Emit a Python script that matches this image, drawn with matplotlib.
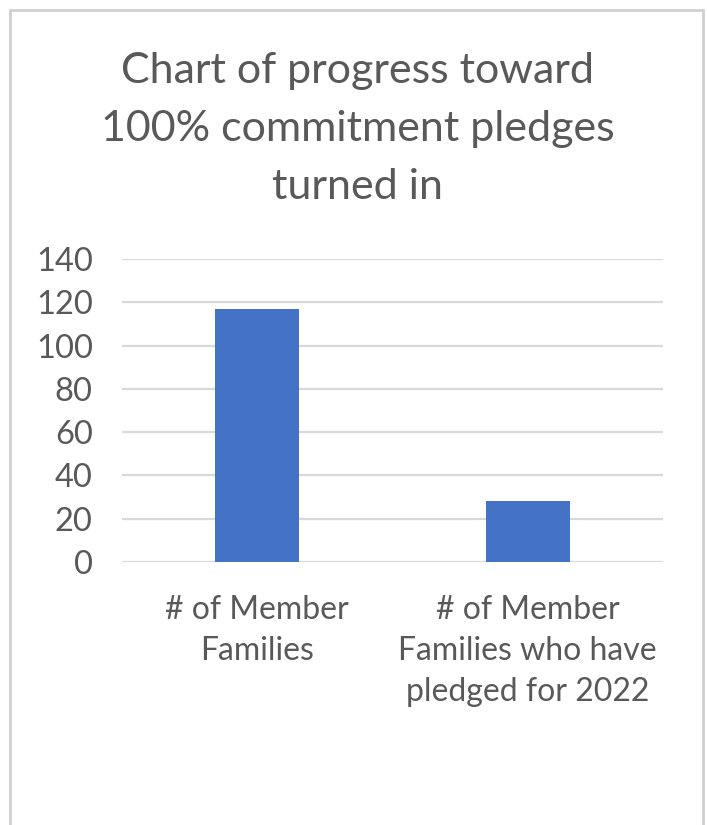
import matplotlib
matplotlib.use('Agg')
import matplotlib.pyplot as plt
from matplotlib.patches import Rectangle

plt.rcParams['font.family'] = ['Lato', 'DejaVu Sans']

categories = ['# of Member\nFamilies', '# of Member\nFamilies who have\npledged for 2022']
values = [117, 28]
yticks = [0, 20, 40, 60, 80, 100, 120, 140]
title = 'Chart of progress toward\n100% commitment pledges\nturned in'

TEXT = '#595959'
BLUE = '#4472c4'
GRID = '#d9d9d9'

fig = plt.figure(figsize=(7.07, 8.25), dpi=100)
fig.patches.append(Rectangle((10/707, -0.01), (703-10)/707, 1 - 10/825 + 0.01,
                             transform=fig.transFigure, fill=False,
                             edgecolor='#d0d0d0', linewidth=2))

ax = fig.add_axes([0.1726, 0.3188, 0.9378 - 0.1726, 0.686 - 0.3188])
x = range(len(values))
ax.bar(x, values, width=0.31, color=BLUE, zorder=3)
ax.set_xlim(-0.5, 1.5)
ax.set_ylim(0, 140)
ax.set_yticks(yticks)
ax.set_xticks(list(x))
ax.set_xticklabels(categories, fontsize=23, color=TEXT, linespacing=1.45, va='top')
ax.tick_params(axis='y', labelsize=23.5, labelcolor=TEXT, length=0, pad=21)
ax.tick_params(axis='x', length=0, pad=24)
ax.yaxis.grid(True, color=GRID, linewidth=1.6, zorder=0)
for s in ax.spines.values():
    s.set_visible(False)

fig.text(0.506, 0.937, title, ha='center', va='top', fontsize=31, color=TEXT,
         linespacing=1.65)

fig.savefig('out.png', dpi=100)
